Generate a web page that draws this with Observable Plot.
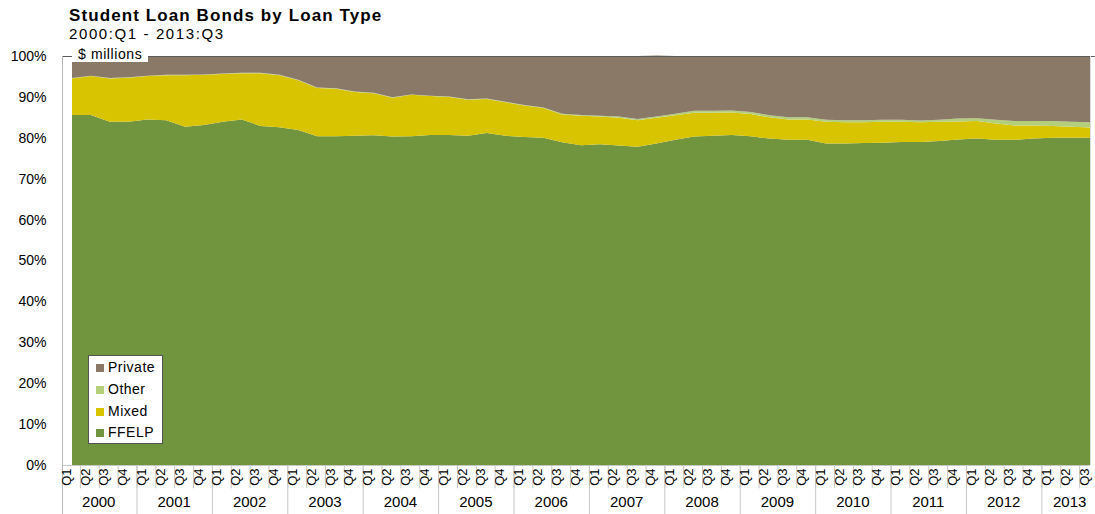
<!DOCTYPE html>
<html>
<head>
<meta charset="utf-8">
<script src="https://cdn.jsdelivr.net/npm/d3@7"></script>
<script src="https://cdn.jsdelivr.net/npm/@observablehq/plot@0.6"></script>
<style>
  body { margin: 0; background: #fff; font-family: "Liberation Sans", Arial, sans-serif; color: #000; }
  #wrap { position: relative; width: 1095px; height: 514px; overflow: hidden; }
  #title { position: absolute; left: 69px; top: 7px; font-size: 17px; line-height: 17px; font-weight: bold; letter-spacing: 1.1px; }
  #subtitle { position: absolute; left: 69px; top: 26px; font-size: 15px; line-height: 15px; letter-spacing: 1.6px; }
  #chart { position: absolute; left: 0; top: 44px; }
  #units { position: absolute; left: 72px; top: 47px; width: 76px; height: 15px; background: #fff; font-size: 14px; line-height: 14px; padding-left: 6px; box-sizing: border-box; letter-spacing: 0.6px; }
  #legend { position: absolute; left: 88px; top: 355px; width: 75px; height: 89px; background: #fff; border: 1px solid #555; box-sizing: border-box; }
  .item { position: absolute; left: 7px; font-size: 14px; line-height: 14px; letter-spacing: 0.5px; }
  .sw { display: inline-block; width: 8px; height: 8px; margin-right: 4px; vertical-align: 0px; }
</style>
</head>
<body>
<div id="wrap">
  <div id="title">Student Loan Bonds by Loan Type</div>
  <div id="subtitle">2000:Q1 - 2013:Q3</div>
  <div id="chart"></div>
  <div id="units">$ millions</div>
  <div id="legend"></div>
</div>
<script>
// Quarters covered: 2000:Q1 through 2013:Q3
const years = [2000, 2001, 2002, 2003, 2004, 2005, 2006, 2007, 2008, 2009, 2010, 2011, 2012, 2013];
const quarterNames = ["Q1", "Q2", "Q3", "Q4"];
const lastYearQuarters = 3;

// Share of student loan bonds by loan type, percent of total
const ffelp = [
  85.6, 85.6, 83.9, 83.9,
  84.5, 84.3, 82.7, 83.1,
  83.9, 84.5, 82.9, 82.6,
  81.9, 80.4, 80.4, 80.5,
  80.6, 80.3, 80.4, 80.7,
  80.7, 80.5, 81.2, 80.5,
  80.2, 80.0, 78.9, 78.2,
  78.4, 78.1, 77.8, 78.6,
  79.5, 80.3, 80.5, 80.7,
  80.4, 79.8, 79.5, 79.5,
  78.6, 78.6, 78.7, 78.8,
  79.0, 79.0, 79.2, 79.6,
  79.8, 79.5, 79.5, 79.8,
  80.0, 80.0, 80.0
];
const mixed = [
  8.9, 9.5, 10.6, 10.8,
  10.6, 11.0, 12.6, 12.3,
  11.7, 11.3, 12.9, 12.7,
  12.2, 11.8, 11.6, 10.7,
  10.3, 9.5, 10.1, 9.5,
  9.3, 8.8, 8.3, 8.2,
  7.7, 7.3, 6.8, 7.2,
  6.8, 6.8, 6.5, 6.3,
  6.0, 5.8, 5.6, 5.5,
  5.4, 5.2, 5.0, 5.0,
  5.3, 5.2, 5.1, 5.1,
  4.9, 4.8, 4.7, 4.4,
  4.3, 4.0, 3.5, 3.2,
  2.9, 2.7, 2.5
];
const other = [
  0.1, 0.1, 0.1, 0.1,
  0.1, 0.1, 0.1, 0.1,
  0.1, 0.1, 0.1, 0.1,
  0.1, 0.1, 0.1, 0.1,
  0.1, 0.1, 0.1, 0.1,
  0.1, 0.1, 0.1, 0.1,
  0.1, 0.1, 0.2, 0.2,
  0.2, 0.3, 0.3, 0.3,
  0.4, 0.5, 0.5, 0.5,
  0.5, 0.5, 0.5, 0.5,
  0.5, 0.5, 0.5, 0.5,
  0.5, 0.4, 0.5, 0.7,
  0.7, 0.9, 1.1, 1.1,
  1.2, 1.2, 1.3
];
const privateLoans = [
  5.4, 4.8, 5.4, 5.2,
  4.8, 4.6, 4.6, 4.5,
  4.3, 4.1, 4.1, 4.6,
  5.8, 7.7, 7.9, 8.7,
  9.0, 10.1, 9.4, 9.7,
  9.9, 10.6, 10.4, 11.2,
  12.0, 12.6, 14.1, 14.4,
  14.6, 14.8, 15.4, 14.9,
  14.1, 13.4, 13.4, 13.3,
  13.7, 14.5, 15.0, 15.0,
  15.6, 15.7, 15.7, 15.6,
  15.6, 15.8, 15.6, 15.3,
  15.2, 15.6, 15.9, 15.9,
  15.9, 16.1, 16.2
];

const seriesNames = ["FFELP", "Mixed", "Other", "Private"];
const seriesColors = ["#71953e", "#d8c400", "#b4cf7c", "#8a7967"];
const yTicks = [0, 10, 20, 30, 40, 50, 60, 70, 80, 90, 100];

// One entry per quarter: its index along the x axis, quarter name and year
const periods = years.flatMap((year, k) =>
  quarterNames.slice(0, year === years[years.length - 1] ? lastYearQuarters : 4)
    .map((q, j) => ({year, q, i: k * 4 + j})));
const lastIndex = periods.length - 1;

// Long table for the stacked areas
const valuesBySeries = {FFELP: ffelp, Mixed: mixed, Other: other, Private: privateLoans};
const rows = seriesNames.flatMap(name =>
  valuesBySeries[name].map((value, i) => ({i, series: name, value})));

// Year label positions and separators of the two-level category axis
const yearCells = years.map(year => {
  const idx = periods.filter(p => p.year === year).map(p => p.i);
  return {year, center: (idx[0] + idx[idx.length - 1]) / 2, start: idx[0] - 0.5};
});
const quarterEdges = periods.slice(0, -1).map(p => p.i + 0.5);
const yearEdges = yearCells.map(c => c.start);

const gridGray = "#c8c8c8";

const chart = Plot.plot({
  width: 1095,
  height: 470,
  marginTop: 12,
  marginBottom: 49,
  marginLeft: 72,
  marginRight: 5,
  style: {fontFamily: "'Liberation Sans', Arial, sans-serif", fontSize: "14px", color: "#000", background: "#fff", overflow: "visible"},
  x: {type: "linear", domain: [0, lastIndex], axis: null},
  y: {domain: [0, 100], label: null},
  color: {domain: seriesNames, range: seriesColors},
  marks: [
    Plot.areaY(rows, {
      x: "i", y: "value", fill: "series",
      order: seriesNames, curve: "linear"
    }),
    // Frame lines: top edge, baseline, left axis line, right edge
    Plot.ruleY([100], {x1: -0.53, x2: lastIndex + 0.3, stroke: "#5a5a5a", strokeWidth: 1}),
    Plot.ruleY([0], {x1: -0.53, x2: lastIndex, stroke: gridGray}),
    Plot.ruleX([-0.53], {y1: 100, y2: -12, stroke: "#b8b8b8"}),
    Plot.ruleX([lastIndex], {y1: 100, y2: 0, stroke: "#dcdcdc"}),
    // Category axis: separators between quarters and between years
    Plot.ruleX(quarterEdges, {y1: 0, y2: -5.7, stroke: gridGray, dx: -1.5}),
    Plot.ruleX(yearEdges.slice(1), {y1: 0, y2: -12, stroke: gridGray, dx: -1.5}),
    Plot.text(periods, {
      x: "i", text: "q", frameAnchor: "bottom", dx: -6, dy: 3,
      rotate: -90, textAnchor: "end", lineAnchor: "middle", fontSize: 13
    }),
    Plot.text(yearCells, {
      x: "center", text: d => String(d.year), frameAnchor: "bottom", dx: -2, dy: 37,
      fontSize: 15, lineAnchor: "middle", letterSpacing: "1px"
    }),
    Plot.axisY({ticks: yTicks, tickFormat: d => d + "%", tickSize: 0, tickPadding: 26, fontSize: 14, label: null})
  ]
});
document.getElementById("chart").appendChild(chart);

// Legend box drawn inside the plot area, top entry first
const legend = document.getElementById("legend");
const legendOrder = ["Private", "Other", "Mixed", "FFELP"];
const legendTops = [4, 26, 48, 69];
legendOrder.forEach((name, k) => {
  const item = document.createElement("div");
  item.className = "item";
  item.style.top = legendTops[k] + "px";
  const sw = document.createElement("span");
  sw.className = "sw";
  sw.style.background = seriesColors[seriesNames.indexOf(name)];
  item.appendChild(sw);
  item.appendChild(document.createTextNode(name));
  legend.appendChild(item);
});
</script>
</body>
</html>
